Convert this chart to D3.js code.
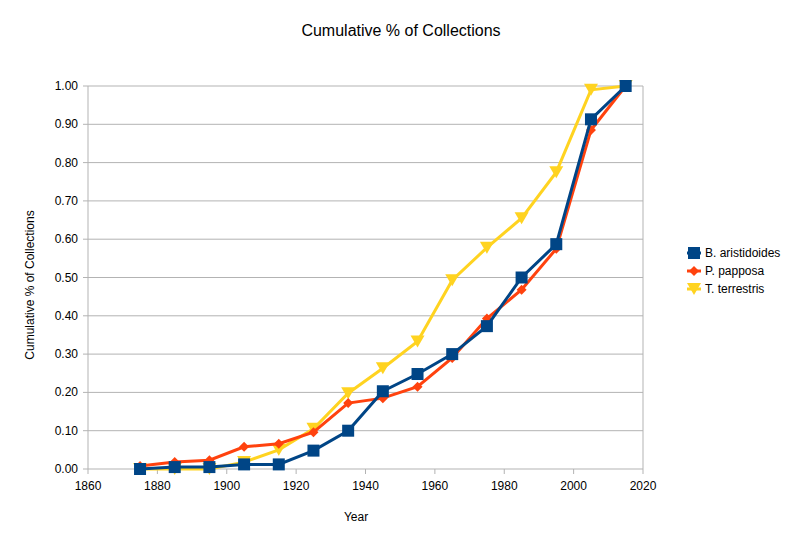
<!DOCTYPE html><html><head><script src="https://cdn.jsdelivr.net/npm/d3@7"></script>
<style>body{margin:0;background:#fff}text{font-family:"Liberation Sans",Arial,sans-serif}</style></head><body>
<script>
const years=[1875,1885,1895,1905,1915,1925,1935,1945,1955,1965,1975,1985,1995,2005,2015];
const bAristidoides=[0,0.005,0.005,0.012,0.012,0.048,0.10,0.203,0.248,0.30,0.373,0.50,0.587,0.913,1.0];
const pPapposa=[0.008,0.018,0.023,0.058,0.066,0.096,0.172,0.185,0.215,0.29,0.393,0.468,0.575,0.885,1.0];
const tTerrestris=[0,0,0,0.018,0.05,0.105,0.198,0.263,0.333,0.493,0.578,0.655,0.775,0.99,1.0];
const xTicks=[1860,1880,1900,1920,1940,1960,1980,2000,2020];
const yTicks=[0,0.1,0.2,0.3,0.4,0.5,0.6,0.7,0.8,0.9,1.0];
const series=[{name:"B. aristidoides",v:bAristidoides,c:"#004586",m:"square"},
{name:"P. papposa",v:pPapposa,c:"#ff420e",m:"diamond"},
{name:"T. terrestris",v:tTerrestris,c:"#ffd320",m:"tri"}];
const svg=d3.select("body").append("svg").attr("width",803).attr("height",544);
const x=d3.scaleLinear().domain([1860,2020]).range([88,643]);
const y=d3.scaleLinear().domain([0,1]).range([469,86]);
svg.selectAll(".g").data(yTicks).join("line").attr("x1",88).attr("x2",643).attr("y1",d=>y(d)).attr("y2",d=>y(d)).attr("stroke","#b3b3b3");
svg.append("line").attr("x1",88).attr("x2",88).attr("y1",86).attr("y2",469).attr("stroke","#b3b3b3");
svg.append("line").attr("x1",643).attr("x2",643).attr("y1",86).attr("y2",469).attr("stroke","#b3b3b3");
svg.selectAll(".xt").data(xTicks).join("line").attr("x1",d=>x(d)).attr("x2",d=>x(d)).attr("y1",469).attr("y2",474).attr("stroke","#b3b3b3");
svg.selectAll(".yt").data(yTicks).join("line").attr("x1",83).attr("x2",88).attr("y1",d=>y(d)).attr("y2",d=>y(d)).attr("stroke","#b3b3b3");
svg.selectAll(".xl").data(xTicks).join("text").attr("x",d=>x(d)).attr("y",490).attr("text-anchor","middle").attr("font-size",12).text(d=>d);
svg.selectAll(".yl").data(yTicks).join("text").attr("x",78).attr("y",d=>y(d)+4).attr("text-anchor","end").attr("font-size",12).text(d=>d.toFixed(2));
function marker(g,m,c,px,py){
 if(m==="square")g.append("rect").attr("x",px-6).attr("y",py-6).attr("width",12).attr("height",12).attr("fill",c);
 else if(m==="diamond")g.append("path").attr("d",`M${px},${py-5}L${px+5},${py}L${px},${py+5}L${px-5},${py}Z`).attr("fill",c);
 else g.append("path").attr("d",`M${px-7},${py-6}L${px+7},${py-6}L${px},${py+6}Z`).attr("fill",c);
}
const line=d3.line().x((d,i)=>x(years[i])).y(d=>y(d));
[series[2],series[1],series[0]].forEach(s=>{
 const g=svg.append("g");
 g.append("path").attr("d",line(s.v)).attr("fill","none").attr("stroke",s.c).attr("stroke-width",3);
 s.v.forEach((d,i)=>marker(g,s.m,s.c,x(years[i]),y(d)));
});
series.forEach((s,i)=>{
 const ly=253+i*18, g=svg.append("g");
 g.append("line").attr("x1",687).attr("x2",701).attr("y1",ly).attr("y2",ly).attr("stroke",s.c).attr("stroke-width",3);
 marker(g,s.m,s.c,694,ly);
 g.append("text").attr("x",705).attr("y",ly+4).attr("font-size",12).text(s.name);
});
svg.append("text").attr("x",401).attr("y",36).attr("text-anchor","middle").attr("font-size",16).text("Cumulative % of Collections");
svg.append("text").attr("x",356).attr("y",521).attr("text-anchor","middle").attr("font-size",12).text("Year");
svg.append("text").attr("transform","translate(34,285) rotate(-90)").attr("text-anchor","middle").attr("font-size",12).text("Cumulative % of Collections");
</script></body></html>
